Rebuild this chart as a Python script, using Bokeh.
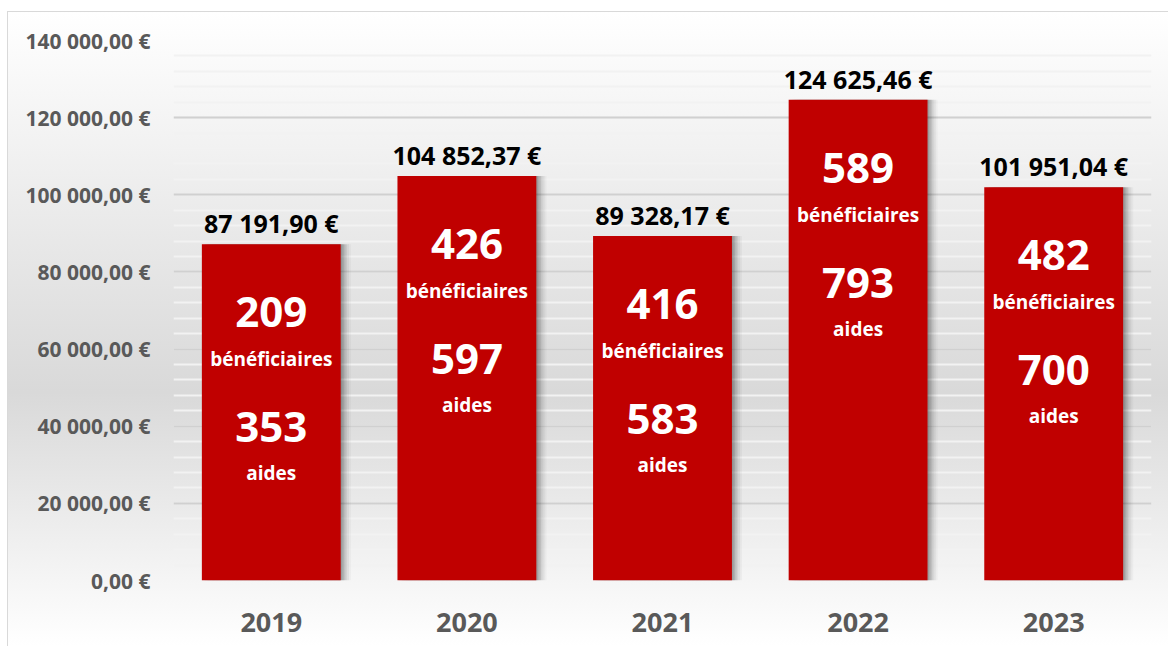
from bokeh.plotting import figure
from bokeh.models import ColumnDataSource, Range1d, FactorRange, SingleIntervalTicker
from bokeh.core.properties import value
from bokeh.transform import dodge
from bokeh.embed import file_html
from bokeh.resources import INLINE

years = ["2019", "2020", "2021", "2022", "2023"]
montants = [87191.90, 104852.37, 89328.17, 124625.46, 101951.04]
beneficiaires = [209, 426, 416, 589, 482]
aides = [353, 597, 583, 793, 700]
y_ticks = [0, 20000, 40000, 60000, 80000, 100000, 120000, 140000]
y_tick_labels = ["0,00 €", "20 000,00 €", "40 000,00 €", "60 000,00 €",
                 "80 000,00 €", "100 000,00 €", "120 000,00 €", "140 000,00 €"]


def fmt_eur(v):
    s = f"{v:,.2f}"
    ent, dec = s.split(".")
    return ent.replace(",", " ") + "," + dec + " €"


src = ColumnDataSource(dict(
    year=years,
    montant=montants,
    label=[fmt_eur(v) for v in montants],
    benef=[str(b) for b in beneficiaires],
    aide=[str(a) for a in aides],
    benef_txt=["bénéficiaires"] * len(years),
    aide_txt=["aides"] * len(years),
))

FONT = value("Open Sans")

p = figure(
    x_range=FactorRange(*years, range_padding=0),
    y_range=Range1d(0, 140000),
    frame_width=978, frame_height=540,
    min_border_left=165, min_border_right=17,
    min_border_top=28, min_border_bottom=66,
    output_backend="svg", toolbar_location=None,
)
p.styles = {
    "border-left": "1.5px solid #d9d9d9",
    "border-top": "1.5px solid #d9d9d9",
    "background": "linear-gradient(to bottom, #ffffff 0%, #ececec 30%, #d9d9d9 60%, #ffffff 100%)",
    "margin-top": "11px",
    "margin-left": "7px",
}
p.background_fill_alpha = 0
p.border_fill_alpha = 0
p.outline_line_color = None

# soft drop shadow to the right of each bar
for off, a in [(0.008, 0.10), (0.016, 0.09), (0.024, 0.08), (0.032, 0.06), (0.042, 0.05), (0.052, 0.03)]:
    p.vbar(x=dodge("year", off, range=p.x_range), top="montant", bottom=-600,
           width=0.71, source=src, fill_color="#000000", fill_alpha=a, line_color=None)

p.vbar(x="year", top="montant", width=0.71, source=src,
       fill_color="#C00000", line_color=None)

p.text(x="year", y="montant", text="label", source=src, y_offset=-21,
       text_font=FONT, text_font_style="bold", text_font_size="25px",
       text_color="#000000", text_align="center", text_baseline="middle")
p.text(x="year", y="montant", text="benef", source=src, y_offset=68,
       text_font=FONT, text_font_style="bold", text_font_size="42px",
       text_color="#ffffff", text_align="center", text_baseline="middle")
p.text(x="year", y="montant", text="benef_txt", source=src, y_offset=115,
       text_font=FONT, text_font_style="bold", text_font_size="19px",
       text_color="#ffffff", text_align="center", text_baseline="middle")
p.text(x="year", y="montant", text="aide", source=src, y_offset=183,
       text_font=FONT, text_font_style="bold", text_font_size="42px",
       text_color="#ffffff", text_align="center", text_baseline="middle")
p.text(x="year", y="montant", text="aide_txt", source=src, y_offset=229,
       text_font=FONT, text_font_style="bold", text_font_size="19px",
       text_color="#ffffff", text_align="center", text_baseline="middle")

# axes
p.yaxis.ticker = SingleIntervalTicker(interval=20000, num_minor_ticks=5)
p.yaxis.major_label_overrides = {t: l for t, l in zip(y_ticks, y_tick_labels)}
p.yaxis.major_label_text_font = "Open Sans"
p.yaxis.major_label_text_font_style = "bold"
p.yaxis.major_label_text_font_size = "21px"
p.yaxis.major_label_text_color = "#595959"
p.yaxis.major_label_standoff = 17
p.yaxis.axis_line_color = None
p.yaxis.major_tick_line_color = None
p.yaxis.minor_tick_line_color = None

p.xaxis.major_label_text_font = "Open Sans"
p.xaxis.major_label_text_font_style = "bold"
p.xaxis.major_label_text_font_size = "27px"
p.xaxis.major_label_text_color = "#595959"
p.xaxis.major_label_standoff = 26
p.xaxis.axis_line_color = None
p.xaxis.major_tick_line_color = None
p.xaxis.minor_tick_line_color = None

p.xgrid.grid_line_color = None
p.ygrid.grid_line_color = "#d0d0d0"
p.ygrid.grid_line_width = 2
p.ygrid.minor_grid_line_color = "#f2f2f2"
p.ygrid.minor_grid_line_width = 2

open("out.html", "w").write(file_html(p, INLINE))
